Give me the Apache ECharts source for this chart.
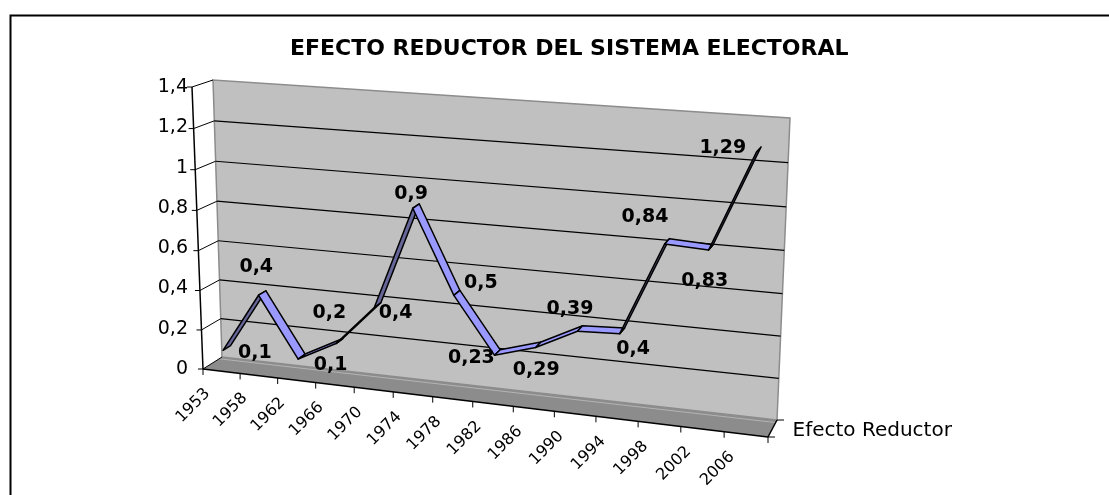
<!DOCTYPE html>
<html>
<head>
    <meta charset="utf-8" />
    <title>Efecto reductor del sistema electoral</title>
    <script src="https://cdn.jsdelivr.net/npm/echarts@6/dist/echarts.min.js"></script>
    <style>
        html, body { margin: 0; padding: 0; background: #fff; }
        #main { width: 1109px; height: 495px; }
    </style>
</head>
<body>
    <div id="main"></div>
    <script type="text/javascript">
        var years = ['1953', '1958', '1962', '1966', '1970', '1974', '1978', '1982', '1986', '1990', '1994', '1998', '2002', '2006'];
        var efectoReductor = [0.1, 0.4, 0.1, 0.2, 0.4, 0.9, 0.5, 0.23, 0.29, 0.39, 0.4, 0.84, 0.83, 1.29];
        var yTicks = [0, 0.2, 0.4, 0.6, 0.8, 1, 1.2, 1.4];
        var seriesName = 'Efecto Reductor';

        // where excel dropped each data label, relative to the point (px)
        var labelNudge = [[28, 5], [-6, -26], [29, 9], [-10, -28], [18, 8], [-5, -12], [24, -10],
            [-26, 5], [-2, 25], [-10, -19], [11, 18], [-22, -24], [-6, 34], [-36, -1]];

        // fake 3d box: front plane and back wall corners on screen
        var frontQuad = { bl: [203, 369], br: [768, 437], tr: [779, 130], tl: [192, 87] };
        var backQuad = { bl: [222, 357], br: [777, 420], tr: [790, 118], tl: [213, 80] };
        var ribbonFront = 0.12, ribbonBack = 0.52, pointDepth = 0.32;

        function quadMap(q) {
            var x0 = q.bl[0], y0 = q.bl[1], x1 = q.br[0], y1 = q.br[1];
            var x2 = q.tr[0], y2 = q.tr[1], x3 = q.tl[0], y3 = q.tl[1];
            var dx1 = x1 - x2, dx2 = x3 - x2, dx3 = x0 - x1 + x2 - x3;
            var dy1 = y1 - y2, dy2 = y3 - y2, dy3 = y0 - y1 + y2 - y3;
            var den = dx1 * dy2 - dx2 * dy1;
            var g = (dx3 * dy2 - dx2 * dy3) / den;
            var h = (dx1 * dy3 - dx3 * dy1) / den;
            var a = x1 - x0 + g * x1, b = x3 - x0 + h * x3, c = x0;
            var d = y1 - y0 + g * y1, e = y3 - y0 + h * y3, f = y0;
            return function (u, v) {
                var w = g * u + h * v + 1;
                return [(a * u + b * v + c) / w, (d * u + e * v + f) / w];
            };
        }
        var frontMap = quadMap(frontQuad), backMap = quadMap(backQuad);
        function project(u, v, z) {
            var p = frontMap(u, v), q = backMap(u, v);
            return [p[0] + (q[0] - p[0]) * z, p[1] + (q[1] - p[1]) * z];
        }
        // data -> unit square of the grid
        function norm(params, api, i, val) {
            var p = api.coord([i, val]);
            var cs = params.coordSys;
            return [(p[0] - cs.x) / cs.width, (cs.y + cs.height - p[1]) / cs.height];
        }
        function line(p, q, color, width) {
            return {
                type: 'line', shape: { x1: p[0], y1: p[1], x2: q[0], y2: q[1] },
                style: { stroke: color, lineWidth: width }
            };
        }
        function fmt(v) {
            return String(v).replace('.', ',');
        }

        function renderFrame(params, api) {
            var cs = params.coordSys;
            var kids = [];
            var band = api.size([1, 0])[0];
            var first = api.coord([0, 0])[0];
            // back wall
            kids.push({
                type: 'polygon',
                shape: { points: [project(0, 0, 1), project(1, 0, 1), project(1, 1, 1), project(0, 1, 1)] },
                style: { fill: '#c0c0c0', stroke: '#8c8c8c', lineWidth: 1.5 }
            });
            // floor
            kids.push({
                type: 'polygon',
                shape: { points: [project(0, 0, 0), project(1, 0, 0), project(1, 0, 1), project(0, 0, 1)] },
                style: { fill: '#8c8c8c', stroke: null }
            });
            kids.push(line(project(0, 0, 0.85), project(1, 0, 0.85), '#b4b4b4', 1));
            yTicks.forEach(function (t) {
                var v = norm(params, api, 0, t)[1];
                if (t > 0 && v < 0.999) {
                    kids.push(line(project(0, v, 1), project(1, v, 1), '#000', 1.2));
                }
                kids.push(line(project(0, v, 0), project(0, v, 1), '#000', 1));
                var a = project(0, v, 0);
                kids.push(line(a, [a[0] - 5, a[1]], '#000', 1));
            });
            kids.push(line(project(0, 0, 0), project(0, 1, 0), '#000', 1.5));
            kids.push(line(project(0, 0, 0), project(1, 0, 0), '#000', 1.5));
            // category ticks and labels along the front floor edge
            for (var k = 0; k <= years.length; k++) {
                var uk = (first - band / 2 + k * band - cs.x) / cs.width;
                var p = project(uk, 0, 0);
                kids.push(line(p, [p[0], p[1] + 6], '#000', 1));
            }
            years.forEach(function (y, i) {
                var u = norm(params, api, i, 0)[0];
                var p = project(u, 0, 0);
                kids.push({
                    type: 'text', x: p[0] - 14, y: p[1] + 20, rotation: Math.PI / 4,
                    style: {
                        text: y, fill: '#000', align: 'right', verticalAlign: 'middle',
                        fontSize: 16, fontFamily: 'DejaVu Sans'
                    }
                });
            });
            // depth axis on the right
            var d0 = project(1, 0, 0), d1 = project(1, 0, 1);
            kids.push(line(d0, d1, '#000', 1.5));
            kids.push(line(d0, [d0[0] + 7, d0[1]], '#000', 1));
            kids.push(line(d1, [d1[0] + 7, d1[1]], '#000', 1));
            var m = project(1, 0, 0.5);
            kids.push({
                type: 'text', x: m[0] + 20, y: m[1] + 2,
                style: {
                    text: seriesName, fill: '#000', align: 'left', verticalAlign: 'middle',
                    fontSize: 20, fontFamily: 'DejaVu Sans'
                }
            });
            return { type: 'group', children: kids };
        }

        function renderRibbon(params, api) {
            var i = api.value(0);
            var a = norm(params, api, i, api.value(1));
            var b = norm(params, api, i + 1, api.value(2));
            var p0f = project(a[0], a[1], ribbonFront), p1f = project(b[0], b[1], ribbonFront);
            var p1b = project(b[0], b[1], ribbonBack), p0b = project(a[0], a[1], ribbonBack);
            var cross = (p1f[0] - p0f[0]) * (p0b[1] - p0f[1]) - (p1f[1] - p0f[1]) * (p0b[0] - p0f[0]);
            return {
                type: 'polygon',
                shape: { points: [p0f, p1f, p1b, p0b] },
                style: { fill: cross < 0 ? '#9999ff' : '#666699', stroke: '#000', lineWidth: 1.5, lineJoin: 'round' }
            };
        }

        function renderLabel(params, api) {
            var i = api.value(0);
            var a = norm(params, api, i, api.value(1));
            var p = project(a[0], a[1], pointDepth);
            return {
                type: 'text', x: p[0] + labelNudge[i][0], y: p[1] + labelNudge[i][1],
                style: {
                    text: fmt(api.value(1)), fill: '#000', align: 'center', verticalAlign: 'middle',
                    fontSize: 19, fontWeight: 'bold', fontFamily: 'DejaVu Sans'
                }
            };
        }

        var chart = echarts.init(document.getElementById('main'));
        var option = {
            animation: false,
            backgroundColor: '#fff',
            title: {
                text: 'EFECTO REDUCTOR DEL SISTEMA ELECTORAL',
                left: 285,
                top: 33,
                textStyle: { fontSize: 22, fontWeight: 'bold', fontFamily: 'DejaVu Sans', color: '#000' }
            },
            graphic: [{
                type: 'rect', left: 8, top: 13, z: -10,
                shape: { width: 1200, height: 600 },
                style: { fill: null, stroke: '#000', lineWidth: 2 }
            }],
            grid: { left: 198, top: 87, width: 570, height: 282 },
            xAxis: { type: 'category', data: years, show: false },
            yAxis: {
                type: 'value', min: 0, max: 1.4, interval: 0.2,
                axisLine: { show: false }, axisTick: { show: false }, splitLine: { show: false },
                axisLabel: {
                    margin: 10, color: '#000', fontSize: 19, fontFamily: 'DejaVu Sans',
                    formatter: function (v) { return fmt(+v.toFixed(1)); }
                }
            },
            series: [
                {
                    type: 'custom', name: 'frame', z: 1, silent: true,
                    renderItem: renderFrame, data: [[0, 0]]
                },
                {
                    type: 'custom', name: seriesName, z: 2, silent: true,
                    renderItem: renderRibbon,
                    data: years.slice(0, -1).map(function (y, i) {
                        return [i, efectoReductor[i], efectoReductor[i + 1]];
                    })
                },
                {
                    type: 'custom', name: 'labels', z: 3, silent: true,
                    renderItem: renderLabel,
                    data: efectoReductor.map(function (v, i) { return [i, v]; })
                }
            ]
        };
        chart.setOption(option);
    </script>
</body>
</html>
